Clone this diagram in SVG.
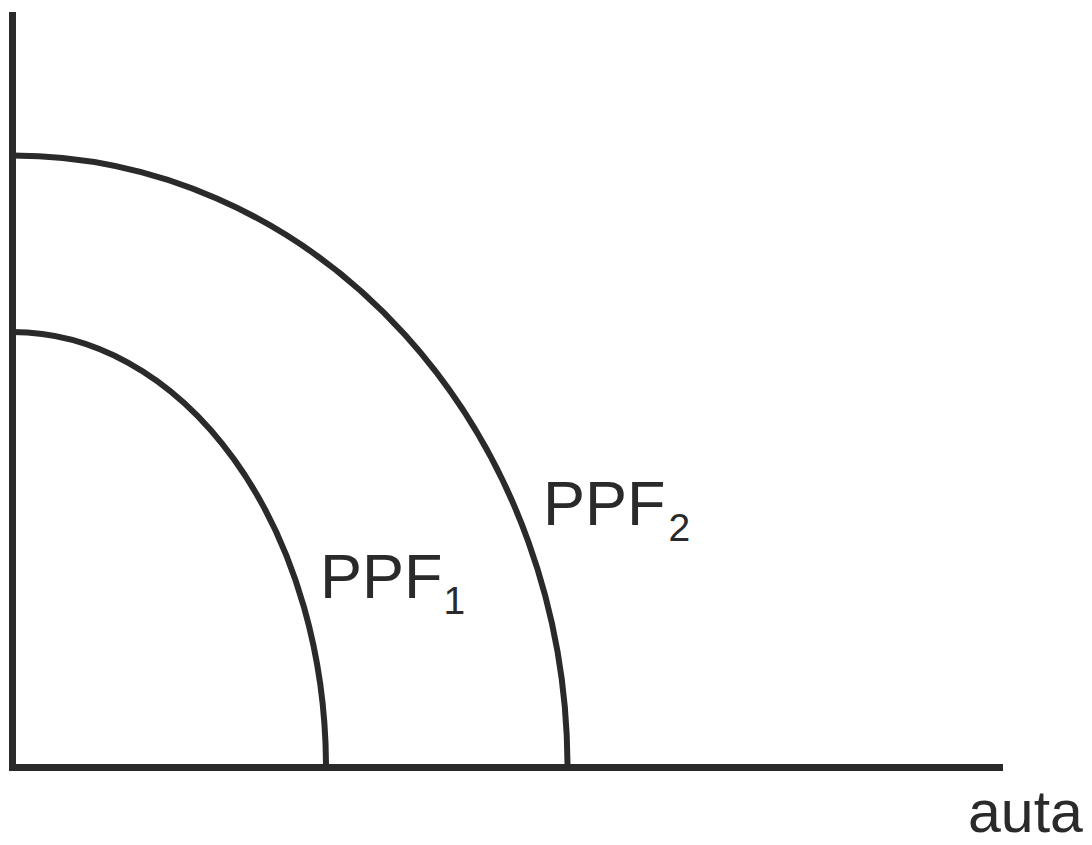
<svg xmlns="http://www.w3.org/2000/svg" width="1092" height="845" viewBox="0 0 1092 845">
<style>
.ax{stroke:#2a2a2a;stroke-width:7;fill:none}
.cv{stroke:#2a2a2a;stroke-width:6;fill:none}
.lbl{font-family:"Liberation Sans",Arial,sans-serif;fill:#2a2a2a;font-size:63px}
.sub{font-size:39px}
.xl{font-size:59px}
</style>
<rect width="1092" height="845" fill="#ffffff"/>
<g id="connectors">
<path id="y-axis" class="ax" d="M12.5,12 V771"/>
<path id="x-axis" class="ax" d="M9,767.5 H1003"/>
</g>
<g id="ppf2">
<path class="cv" d="M12.5,155.5 A555,612 0 0 1 567.5,767.5"/>
<text class="lbl" x="543" y="525">PPF<tspan class="sub" dx="3" dy="16">2</tspan></text>
</g>
<g id="ppf1">
<path class="cv" d="M12.5,332 A313.5,435.5 0 0 1 326,767.5"/>
<text class="lbl" x="320" y="598">PPF<tspan class="sub" dx="1" dy="16">1</tspan></text>
</g>
<g id="x-label">
<text class="lbl xl" x="968" y="832">auta</text>
</g>
</svg>
